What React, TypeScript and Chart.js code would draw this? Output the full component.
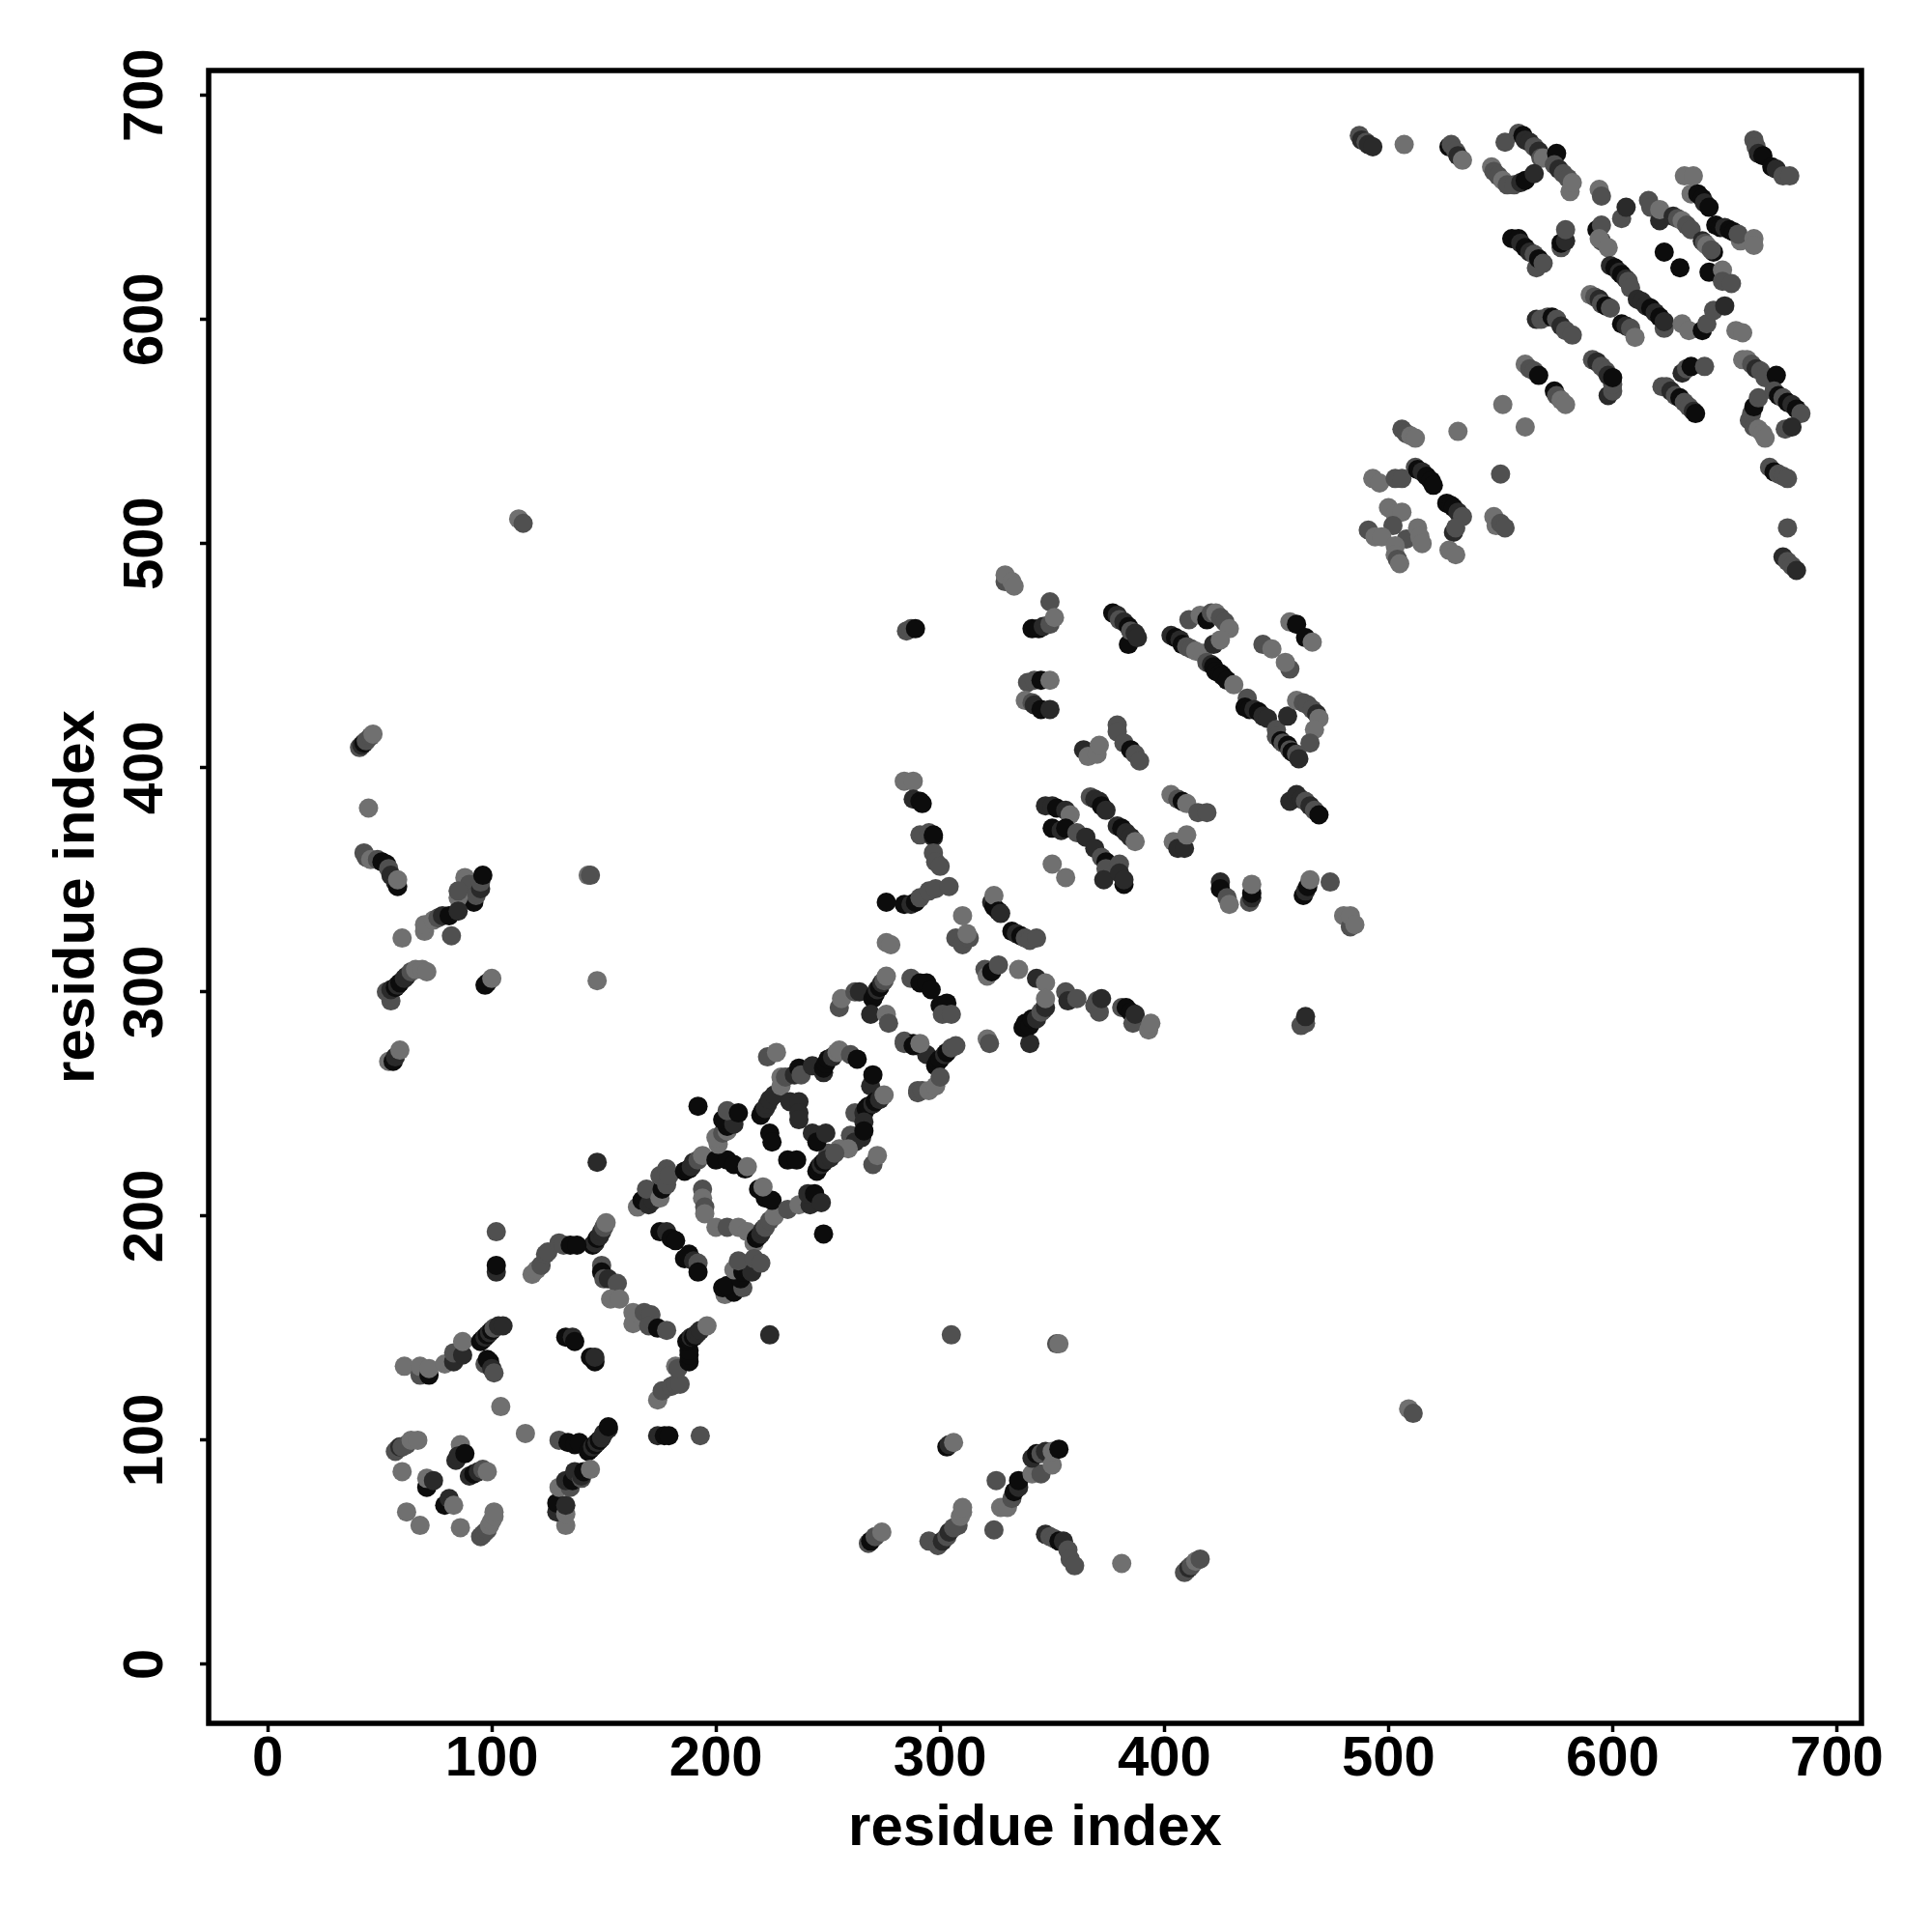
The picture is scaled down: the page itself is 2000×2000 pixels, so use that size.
import { useEffect, useRef } from "react";
import { Chart, registerables } from "chart.js";

Chart.register(...registerables);

const axisTitle = "residue index";
const tickStep = 100;
const axisMin = -26.3;
const axisMax = 711;
const shadeColors = ["#707070", "#505050", "#2a2a2a", "#0c0c0c"];

// each row: [residue x, residue y, shade index]
const bottomLeft = [
  [57,95,1],[58,96,1],[59,97,2],[60,97,1],[62,98,1],[64,100,0],[67,100,0],[60,86,0],[62,68,0],[68,62,0],
  [71,79,3],[71,83,0],[74,82,2],[79,71,3],[81,74,2],[83,71,0],[86,61,0],[86,98,0],[84,91,2],[85,93,2],[88,94,3],
  [90,84,2],[92,85,3],[94,86,2],[96,87,1],[98,86,0],
  [95,57,1],[96,58,1],[97,59,1],[98,60,1],[99,62,0],[100,64,0],[101,66,0],[101,68,0],
  [104,115,0],[115,103,0],
  [61,133,0],[68,129,1],[68,133,0],[72,129,3],[72,132,0],[79,134,0],[83,135,2],[83,139,1],[87,138,2],[87,144,0],
  [95,144,3],[96,145,3],[97,146,2],[98,147,3],[99,148,2],[100,149,3],[101,150,1],[103,151,2],[105,151,2],
  [97,134,1],[98,136,3],[99,135,3],[100,132,2],[101,130,1],
  [102,175,2],[102,178,3],[102,193,1],
  [133,146,3],[136,146,2],[137,144,3],[146,135,3],[144,137,3],[146,137,2],
  [130,100,1],[134,99,3],[137,98,3],[139,99,3],
  [143,95,3],[144,96,3],[145,97,2],[146,98,3],[147,99,2],[148,100,3],[149,101,2],[150,103,2],[152,105,2],[152,106,3],
  [133,62,0],[129,68,2],[129,72,3],[133,67,0],[133,71,2],
  [130,79,0],[135,79,1],[133,82,2],[136,82,3],[137,86,2],[140,83,1],[140,84,2],[141,86,3],[144,87,0],
  [193,102,1],[174,102,2],[177,102,3],[179,102,3],
  [174,118,0],[176,122,1],[180,124,1],[182,125,1],[184,125,1],[182,133,0],[183,132,1],[188,135,3],[188,138,3],[188,140,3],
  [187,144,3],[188,145,3],[189,146,2],[190,146,3],[191,147,2],[192,148,2],[193,149,2],[196,151,0],
];

const diagonalLow = [
  [147,305,0],[147,224,2],[192,249,3],[224,147,2],[248,192,3],
  [145,187,3],[146,188,2],[147,190,3],[148,191,2],[149,193,2],[150,195,1],[151,197,0],
  [118,174,0],[120,176,0],[122,178,1],[124,183,1],[125,184,1],[130,188,1],[132,187,1],[135,187,3],[138,187,3],
  [149,178,1],[149,175,3],[150,172,1],[152,172,2],[156,170,1],[153,163,0],[157,163,0],
  [163,152,0],[163,157,0],[168,157,1],[171,156,1],[170,151,1],[174,150,3],[178,149,1],
  [165,204,0],[167,207,3],[168,207,3],[170,205,2],[171,211,3],[172,207,2],[169,212,1],[175,208,0],[176,212,3],
  [175,218,1],[178,214,1],[178,221,1],[179,218,1],
  [186,220,3],[188,221,3],[189,222,2],[190,224,2],[192,225,1],[194,227,0],
  [200,225,3],[205,225,3],[208,223,3],[213,221,3],[214,222,0],
  [201,232,0],[200,235,0],[203,237,1],[205,238,0],[205,240,3],[203,243,3],[208,241,2],[205,247,1],[210,246,3],
  [194,212,1],[194,208,0],[195,204,1],[195,201,0],
  [200,195,0],[205,195,1],[210,195,0],[214,193,0],
  [217,188,0],[218,190,3],[219,191,3],[220,192,2],[221,194,2],[222,195,1],[224,198,1],[226,200,0],
  [219,212,3],[222,208,3],[225,207,3],[221,213,0],
  [232,203,1],[237,205,0],[242,205,2],[241,210,2],[244,210,3],[247,206,2],
  [175,193,3],[178,193,2],[180,190,3],[182,189,3],
  [186,181,3],[188,183,3],[190,180,2],[192,179,1],[192,175,3],
  [204,165,0],[208,166,3],[203,168,3],[205,169,3],[212,168,1],[211,172,3],[208,176,0],[212,175,3],[216,175,2],[210,180,1],[217,181,1],[220,179,1],
];

const diagonalMid = [
  [220,245,3],[221,247,3],[222,248,2],[223,250,2],[224,252,2],[226,254,2],[229,258,0],[229,262,0],[231,262,1],
  [223,271,1],[227,273,0],[235,263,2],[237,266,3],[238,263,1],[243,267,2],
  [248,264,2],[248,266,3],[249,268,3],[250,270,3],[252,271,2],[254,273,0],[255,274,0],
  [260,272,1],[263,270,3],[269,258,2],[270,263,3],
  [262,246,1],[266,246,2],[267,248,3],[268,249,3],[270,250,2],[271,251,3],[273,252,2],[275,254,0],
  [266,242,2],[265,235,2],[260,236,1],[262,233,2],[266,238,3],
  [250,228,1],[255,230,0],[259,230,0],
  [245,220,3],[246,222,3],[247,223,2],[248,224,3],[249,225,2],[251,226,2],[253,228,1],
  [270,223,1],[272,227,0],[232,225,3],[236,225,3],[224,237,3],[225,233,3],
  [243,237,2],[246,236,2],[245,233,3],[249,237,2],
  [233,251,2],[237,251,2],[237,246,2],[237,243,2],
  [255,293,1],[256,297,0],[262,300,1],[264,300,2],
  [270,297,3],[271,299,3],[272,301,2],[273,302,3],[274,304,2],[275,305,1],[276,307,0],
  [269,290,2],[276,290,0],[277,286,1],[284,278,1],[288,277,3],[290,276,0],[294,272,2],[290,256,1],
  [276,322,0],[278,321,0],[287,306,1],[291,304,3],[294,304,3],[296,301,3],
  [300,294,3],[303,295,3],[301,290,1],[305,290,1],
  [284,277,1],[288,276,3],[291,277,0],
  [298,267,3],[299,269,3],[300,270,3],[302,272,2],[303,273,3],[305,275,1],[307,276,1],
  [290,255,1],[292,256,1],[295,256,0],[298,258,0],[300,262,1],
  [320,310,1],[321,307,0],[323,309,3],[326,312,1],[335,310,0],[343,306,2],[347,304,0],
  [356,300,1],[357,296,2],[361,297,1],[369,294,1],[371,291,1],[370,296,1],[372,297,2],
  [381,293,1],[383,293,3],[385,291,3],[386,286,1],[387,290,2],[393,283,0],[394,286,0],
  [321,279,0],[322,277,1],[340,277,2],
  [337,284,3],[338,286,3],[340,285,3],[341,288,3],[343,288,2],[345,291,1],[346,292,1],[347,293,2],[347,297,0],
  [307,324,1],[310,321,1],[313,324,1],[312,326,0],[310,334,0],
];

const middleUpper = [
  [329,483,1],[329,486,0],[332,483,0],[333,481,0],[349,474,1],
  [341,462,3],[344,462,3],[346,463,2],[349,464,1],[351,467,0],
  [285,461,1],[287,462,1],[289,462,3],
  [377,469,3],[379,468,2],[380,466,1],[382,465,2],[384,463,3],[384,455,3],[385,461,1],[387,460,2],[388,458,2],
  [411,466,1],[416,468,0],[419,466,3],[421,469,1],[423,469,0],[425,467,1],[427,465,1],[429,462,0],
  [403,459,2],[405,458,3],[407,457,2],[408,455,3],[410,454,1],[412,453,1],[414,452,0],[417,451,0],
  [422,455,2],[425,457,0],
  [419,447,1],[421,446,2],[422,445,3],[423,443,3],[425,442,3],[426,441,3],[428,439,3],[431,437,0],
  [437,431,1],[436,427,3],[438,426,3],[440,426,2],[442,425,3],[444,423,2],[446,422,2],[450,417,1],[455,423,2],
  [459,430,0],[462,429,1],[464,428,1],[466,426,1],[468,424,2],[469,422,0],[467,417,0],[465,411,1],
  [450,414,1],[452,412,3],[453,411,1],[455,410,3],[456,408,1],[457,407,3],[459,406,1],[460,404,2],
  [456,465,0],[459,464,3],[463,458,3],[466,456,0],[444,455,1],[448,453,0],[456,444,1],[454,447,0],
  [339,438,1],[342,439,1],[345,439,3],[349,439,0],
  [338,430,0],[341,429,1],[342,428,2],[345,426,3],[349,426,2],
  [379,419,1],[379,416,1],[382,411,1],[385,408,3],[387,406,1],[389,403,1],
  [364,408,2],[366,405,0],[370,406,0],[371,410,0],
  [347,383,2],[350,383,2],[352,382,3],[356,381,2],[358,379,0],
  [350,373,3],[354,372,2],[356,373,3],[361,371,1],[365,369,2],
  [367,387,1],[369,386,2],[371,385,2],[372,383,3],[374,381,2],
  [379,374,2],[381,373,3],[383,371,2],[385,369,2],[387,367,0],
  [403,388,0],[406,386,1],[408,385,3],[410,384,0],[415,380,1],[419,380,1],
  [404,367,0],[406,364,2],[409,364,2],[410,370,0],
  [456,385,2],[459,388,2],[461,386,2],[463,385,1],[465,383,2],[467,381,1],[469,379,3],
  [369,364,2],[372,360,1],[374,358,3],[374,355,1],[373,350,2],[380,357,1],[380,353,2],[382,348,3],[382,350,2],
  [350,357,0],[356,351,0],
  [425,349,2],[425,346,3],[428,342,1],[429,339,0],
  [438,340,1],[439,342,2],[439,344,3],[439,348,0],
  [462,343,3],[463,345,2],[464,347,3],[465,350,0],[474,349,1],
  [480,334,0],[483,329,1],[483,334,0],[485,330,0],
  [461,285,1],[463,286,1],[463,289,2],
  [323,340,2],[324,338,3],[324,343,0],[326,336,3],[327,335,2],
  [332,327,3],[334,326,2],[336,325,3],[338,324,1],[340,323,1],[343,324,1],
  [284,394,0],[288,394,0],[288,386,2],[291,385,3],[292,384,3],
  [291,370,1],[295,371,1],[297,369,2],[297,370,3],[297,362,1],[298,358,1],[300,356,1],
  [276,340,3],[284,339,3],[287,339,2],[289,340,3],[291,342,1],[295,345,1],[298,346,1],[304,347,1],
];

const upperLeft = [
  [41,409,1],[42,410,2],[43,411,3],[44,412,1],[46,414,1],[47,415,0],[45,382,0],
  [43,362,1],[44,360,1],[46,359,0],[49,359,1],[51,358,3],[53,357,3],[54,355,1],[55,352,2],[57,349,2],[58,347,3],[58,350,0],
  [88,351,0],[90,348,1],[92,340,3],[93,343,1],[95,346,2],[95,349,1],[96,352,3],
  [85,342,0],[85,345,1],[70,327,0],[70,330,0],[74,332,0],[76,333,1],[78,334,2],[81,334,3],[85,336,2],
  [60,324,0],[82,325,1],
  [55,296,1],[53,300,1],[55,301,2],[57,302,3],[58,303,2],[59,304,3],[61,306,2],[62,307,2],[64,309,1],[66,310,0],[69,310,0],[71,309,0],
  [97,303,3],[98,304,3],[100,306,0],
  [54,269,0],[56,269,3],[57,271,2],[59,274,0],
  [143,352,0],[144,352,1],[112,511,0],[114,509,1],
];

const upperRight = [
  [487,682,1],[488,680,2],[490,679,1],[491,678,2],[493,677,2],[507,678,0],
  [527,677,3],[528,678,1],[530,675,1],[531,673,2],[533,671,0],[552,679,1],
  [558,683,1],[560,682,3],[561,680,2],[563,679,2],[565,677,1],[567,675,2],[568,672,1],[569,672,0],[575,674,3],
  [574,669,1],[576,667,2],[578,665,1],[580,663,1],[581,657,0],[582,661,0],
  [546,668,0],[547,666,1],[549,664,1],[551,662,0],[553,660,1],[556,660,1],[559,661,2],[561,662,3],[565,665,2],
  [594,658,0],[595,655,1],[604,645,1],[606,650,2],[593,640,3],[595,642,1],[595,635,1],[594,636,0],[598,632,0],
  [616,653,1],[617,650,1],[621,644,2],[621,649,0],
  [632,664,0],[636,664,0],[635,656,0],[638,656,3],[640,654,3],[641,652,2],[643,650,3],
  [627,646,2],[629,645,1],[631,644,0],[633,642,1],[635,640,1],
  [646,642,3],[648,641,3],[650,641,2],[652,640,3],[654,639,3],[657,635,0],[656,638,1],[663,636,0],[663,633,0],
  [640,635,2],[641,634,1],[642,633,0],[645,630,3],[644,631,1],
  [623,630,3],[630,623,3],[643,621,3],[649,622,0],[649,617,1],[653,616,1],
  [599,624,2],[601,623,3],[603,621,2],[604,620,3],[606,618,2],[607,617,1],[608,614,1],
  [611,609,2],[613,608,2],[615,606,2],[617,605,3],[619,603,2],[621,601,3],[623,596,1],[623,599,2],
  [631,598,0],[634,595,0],[640,595,3],[642,598,1],[645,604,1],[650,606,2],[655,595,0],[658,594,0],
  [590,611,0],[592,610,1],[594,609,2],[595,607,1],[597,606,3],[599,605,1],
  [604,598,3],[606,597,2],[608,596,1],[610,592,0],
  [566,600,2],[568,600,1],[571,601,1],[573,601,3],[575,600,1],[577,597,2],[579,595,1],[582,593,1],
  [555,636,3],[558,636,3],[559,634,2],[561,632,3],[563,630,2],[565,629,1],[566,623,1],[567,627,3],[569,625,1],
  [577,632,1],[577,634,3],[579,635,2],[579,640,1],
  [561,580,0],[563,578,1],[565,577,1],[567,575,3],[574,568,3],[575,566,1],[577,564,0],[579,562,0],
  [598,566,2],[600,568,1],[600,571,1],[591,582,1],[593,581,2],[595,579,1],[597,577,1],[598,575,2],[600,574,3],
  [631,576,2],[633,578,1],[635,579,3],[641,579,1],
  [622,570,1],[624,570,1],[626,568,2],[628,566,1],[630,565,3],[632,563,1],[634,561,1],[636,559,2],[637,558,3],
  [658,582,0],[660,582,0],[662,580,1],[664,578,2],[666,577,1],[668,574,1],[673,575,3],
  [661,555,1],[662,558,1],[663,552,1],[665,551,0],[667,549,0],[668,547,0],[663,561,3],[665,565,1],
  [672,568,1],[674,566,3],[676,565,1],[678,563,3],[680,562,2],[682,560,3],[684,558,1],[677,551,1],[680,552,2],
  [670,534,1],[672,532,3],[674,531,1],[676,530,1],[678,529,1],[678,507,1],
  [676,494,2],[678,492,1],[680,490,1],[682,488,2],
  [663,680,1],[664,677,1],[665,674,2],[667,673,3],[671,668,3],[673,667,2],[676,664,1],[679,664,1],
  [506,551,1],[508,549,1],[510,548,0],[512,547,0],[531,550,0],[551,562,0],[561,552,0],[550,531,1],
  [493,529,0],[496,527,0],[503,529,1],[506,529,1],
  [512,534,1],[513,533,3],[515,532,2],[517,530,3],[519,528,3],[520,526,3],
  [526,518,3],[528,517,3],[529,516,3],[531,514,2],[533,512,1],[529,505,2],[530,507,1],[527,497,0],[530,495,0],
  [547,512,0],[548,508,0],[550,509,1],[552,507,1],
  [500,516,0],[503,513,0],[506,514,0],[502,508,1],[491,506,1],[494,503,0],[497,503,0],[508,502,1],
  [513,507,0],[514,503,0],[515,500,0],[503,499,0],[503,495,0],[504,493,1],[505,491,0],
];

const lowerRight = [
  [268,54,1],[269,55,3],[271,57,1],[274,59,0],[295,55,1],
  [299,53,1],[301,55,2],[303,57,1],[304,59,2],[306,61,1],[308,62,1],[309,66,0],[310,68,0],[310,70,0],
  [324,60,1],[327,70,0],[330,70,0],[325,82,1],
  [332,74,1],[333,77,3],[335,79,2],[335,82,3],[341,85,0],[345,85,1],
  [341,92,2],[343,94,3],[345,94,1],[347,95,2],[350,89,0],[350,95,0],[353,96,3],
  [303,97,3],[304,98,2],[306,99,0],
  [347,58,2],[349,57,1],[351,56,1],[353,55,3],[355,55,2],[357,51,1],[358,47,1],[360,44,1],[381,45,0],
  [409,41,1],[410,42,1],[411,43,2],[412,44,1],[414,46,0],[416,47,1],
  [509,114,0],[511,112,1],[352,143,1],[353,143,0],[305,147,1],
];

const allPoints = [...bottomLeft, ...diagonalLow, ...diagonalMid, ...middleUpper, ...upperLeft, ...upperRight, ...lowerRight];

const boxPlugin = {
  id: "plotBox",
  afterDatasetsDraw(chart: any) {
    const { ctx, chartArea: a } = chart;
    ctx.save();
    ctx.strokeStyle = "#000";
    ctx.lineWidth = 5.5;
    ctx.lineJoin = "miter";
    ctx.strokeRect(a.left, a.top, a.right - a.left, a.bottom - a.top);
    ctx.restore();
  },
};

const titleFont = { family: "'Liberation Sans'", size: 60, weight: "bold" as const, lineHeight: 1 };
const tickFont = { family: "'Liberation Sans'", size: 58, weight: "bold" as const, lineHeight: 1 };

function axis(extra: any, fit: (s: any) => void) {
  return {
    type: "linear",
    min: axisMin,
    max: axisMax,
    afterFit: fit,
    border: { display: false },
    grid: { display: true, drawOnChartArea: false, drawTicks: true, tickLength: 9, tickWidth: 3.5, tickColor: "#000" },
    title: { display: true, text: axisTitle, color: "#000", font: titleFont, padding: 0 },
    ...extra,
  };
}

export default function App() {
  const ref = useRef<HTMLCanvasElement>(null);
  useEffect(() => {
    const chart = new Chart(ref.current!, {
      type: "scatter",
      plugins: [boxPlugin],
      data: {
        datasets: [
          {
            data: allPoints.map((p) => ({ x: p[0], y: p[1] })),
            backgroundColor: allPoints.map((p) => shadeColors[p[2]]),
            borderWidth: 0,
            pointRadius: 10,
          },
        ],
      },
      options: {
        responsive: false,
        animation: false,
        devicePixelRatio: 1,
        layout: { padding: { left: 50, top: 73, right: 73, bottom: 77 } },
        plugins: { legend: { display: false }, tooltip: { enabled: false } },
        scales: {
          x: axis(
            { ticks: { stepSize: tickStep, includeBounds: false, autoSkip: false, maxRotation: 0, minRotation: 0, color: "#000", font: tickFont, padding: 0 } },
            (s: any) => { s.height = 139; }
          ),
          y: axis(
            { ticks: { stepSize: tickStep, includeBounds: false, autoSkip: false, minRotation: 90, maxRotation: 90, crossAlign: "center", color: "#000", font: tickFont, padding: 7 } },
            (s: any) => { s.width = 166; }
          ),
        },
      } as any,
    });
    return () => chart.destroy();
  }, []);
  return (
    <canvas
      ref={ref}
      width={2000}
      height={2000}
      style={{ position: "absolute", left: 0, top: 0, width: 2000, height: 2000, background: "#fff" }}
    />
  );
}
